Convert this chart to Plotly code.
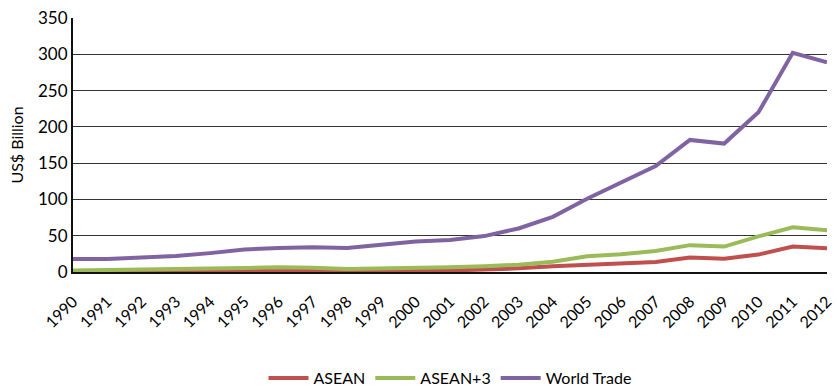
import plotly.graph_objects as go

years = [str(y) for y in range(1990, 2013)]
asean = [0.5, 1, 1, 1.2, 1.5, 2, 2.2, 2, 1.5, 1.5, 1.8, 2, 3, 5, 8, 10, 12, 13.8, 20, 18.4, 24, 35, 32.6]
asean3 = [2, 2.5, 3, 3.5, 4, 5.5, 6.5, 6, 4, 4.5, 5.5, 6.5, 8, 10, 14, 21.6, 24.5, 29, 37, 35, 49, 61.5, 57.4]
world = [18, 18, 20, 22, 26, 31, 33, 34, 33, 37, 42, 44, 49.5, 60, 76, 101, 123, 146, 182, 177, 220, 302, 289]

font = "Lato, sans-serif"

fig = go.Figure()
for name, vals, col in [("ASEAN", asean, "#C0504D"), ("ASEAN+3", asean3, "#9BBB59"), ("World Trade", world, "#8064A2")]:
    fig.add_trace(go.Scatter(x=years, y=vals, name=name, mode="lines",
                             line=dict(color=col, width=4)))

fig.update_layout(
    width=837, height=389,
    margin=dict(l=73, r=2, t=18, b=117),
    paper_bgcolor="white", plot_bgcolor="white",
    font=dict(family=font, size=16, color="#000000"),
    showlegend=True,
    legend=dict(orientation="h", x=0.5, xanchor="center", yref="container", y=0.028, yanchor="middle",
                font=dict(family=font, size=16), itemwidth=40, tracegroupgap=0),
    xaxis=dict(type="category", tickangle=-45, showgrid=False, showline=True, linecolor="#111111",
               linewidth=2, ticks="outside", ticklen=12, tickcolor="rgba(0,0,0,0)",
               tickfont=dict(family=font, size=16)),
    yaxis=dict(range=[0, 350], dtick=50, showgrid=True, gridcolor="#333333", gridwidth=1,
               showline=True, linecolor="#111111", linewidth=2, ticks="", zeroline=False,
               title=dict(text="US$ Billion", font=dict(family=font, size=16), standoff=10),
               tickfont=dict(family=font, size=17)),
)

fig.write_html("out.html")
